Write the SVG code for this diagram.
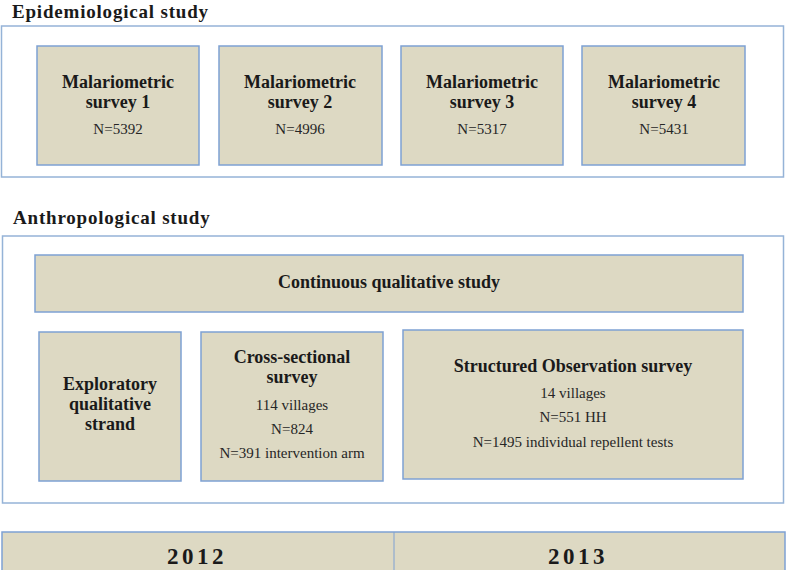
<svg xmlns="http://www.w3.org/2000/svg" width="787" height="570" viewBox="0 0 787 570">
<style>
.frame{fill:#fff;stroke:#95b3d7;stroke-width:1.5}
.box{fill:#ddd9c3;stroke:#7ea1d3;stroke-width:1.5}
.title{font-family:"Liberation Serif",serif;font-size:19px;font-weight:bold;fill:#1a1a1a;letter-spacing:0.8px}
.h{font-family:"Liberation Serif",serif;font-size:18px;font-weight:bold;fill:#1a1a1a;text-anchor:middle}
.t{font-family:"Liberation Serif",serif;font-size:15px;fill:#262626;text-anchor:middle}
.yr{font-family:"Liberation Serif",serif;font-size:23px;font-weight:bold;fill:#1a1a1a;text-anchor:middle;letter-spacing:3.5px}
</style>
<rect width="787" height="570" fill="#fff"/>
<text class="title" x="12" y="18">Epidemiological study</text>
<rect class="frame" x="1.5" y="26" width="782" height="151"/>
<g id="survey1"><rect class="box" x="37" y="46" width="162" height="119"/><text class="h" x="118" y="88">Malariometric</text><text class="h" x="118" y="108">survey 1</text><text class="t" x="118" y="134">N=5392</text></g>
<g id="survey2"><rect class="box" x="219" y="46" width="163" height="119"/><text class="h" x="300" y="88">Malariometric</text><text class="h" x="300" y="108">survey 2</text><text class="t" x="300" y="134">N=4996</text></g>
<g id="survey3"><rect class="box" x="401" y="46" width="162" height="119"/><text class="h" x="482" y="88">Malariometric</text><text class="h" x="482" y="108">survey 3</text><text class="t" x="482" y="134">N=5317</text></g>
<g id="survey4"><rect class="box" x="582" y="46" width="163" height="119"/><text class="h" x="664" y="88">Malariometric</text><text class="h" x="664" y="108">survey 4</text><text class="t" x="664" y="134">N=5431</text></g>
<text class="title" x="13" y="224">Anthropological study</text>
<rect class="frame" x="2.5" y="236" width="781" height="267"/>
<g id="continuous"><rect class="box" x="35" y="255" width="708" height="57"/><text class="h" x="389" y="288">Continuous qualitative study</text></g>
<g id="exploratory"><rect class="box" x="39" y="332" width="142" height="149"/><text class="h" x="110" y="390">Exploratory</text><text class="h" x="110" y="410">qualitative</text><text class="h" x="110" y="430">strand</text></g>
<g id="crosssectional"><rect class="box" x="201" y="332" width="182" height="149"/><text class="h" x="292" y="363">Cross-sectional</text><text class="h" x="292" y="383">survey</text><text class="t" x="292" y="410">114 villages</text><text class="t" x="292" y="434">N=824</text><text class="t" x="292" y="458">N=391 intervention arm</text></g>
<g id="structured"><rect class="box" x="403" y="330" width="340" height="149"/><text class="h" x="573" y="372">Structured Observation survey</text><text class="t" x="573" y="398">14 villages</text><text class="t" x="573" y="422">N=551 HH</text><text class="t" x="573" y="447">N=1495 individual repellent tests</text></g>
<g id="timeline"><rect class="box" x="2" y="532" width="783" height="40"/><line x1="394" y1="532" x2="394" y2="570" stroke="#7ea1d3" stroke-width="1"/><text class="yr" x="197" y="564">2012</text><text class="yr" x="578" y="564">2013</text></g>
</svg>
